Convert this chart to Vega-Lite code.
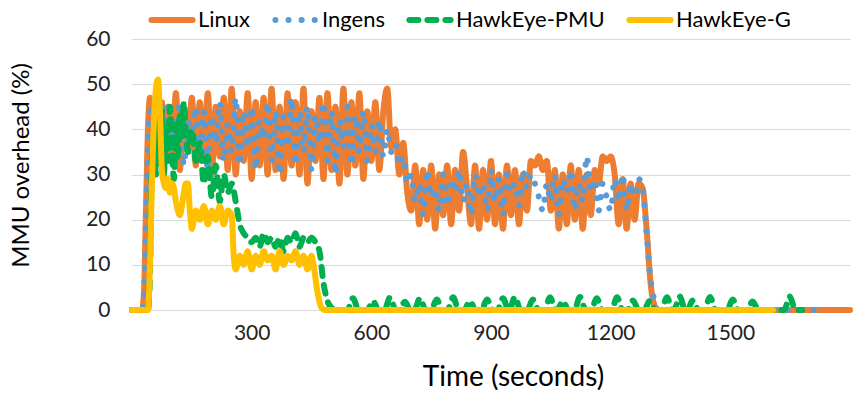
{
  "$schema": "https://vega.github.io/schema/vega-lite/v6.json",
  "width": 718,
  "height": 271,
  "autosize": {"type": "none"},
  "padding": {"left": 132, "top": 39, "right": 3, "bottom": 97},
  "background": "white",
  "config": {"font": "Lato", "view": {"stroke": null}},
  "data": {"values": [
    {"t":0,"Linux":0,"Ingens":0,"HawkEye-PMU":0,"HawkEye-G":0},
    {"t":25,"Linux":0,"Ingens":0,"HawkEye-PMU":0,"HawkEye-G":0},
    {"t":30,"Linux":4,"Ingens":3},
    {"t":35,"Linux":22,"Ingens":20},
    {"t":40,"Linux":40,"Ingens":36,"HawkEye-PMU":0,"HawkEye-G":0},
    {"t":45,"Linux":47,"Ingens":44,"HawkEye-PMU":8,"HawkEye-G":10},
    {"t":50,"Linux":40,"Ingens":41,"HawkEye-PMU":33,"HawkEye-G":28},
    {"t":55,"Linux":45,"Ingens":38,"HawkEye-PMU":38,"HawkEye-G":42},
    {"t":60,"Linux":35,"Ingens":45,"HawkEye-PMU":30,"HawkEye-G":49},
    {"t":65,"Linux":47,"Ingens":36,"HawkEye-PMU":42,"HawkEye-G":51},
    {"t":70,"Linux":33,"Ingens":44,"HawkEye-PMU":35,"HawkEye-G":44},
    {"t":75,"Linux":46,"Ingens":35,"HawkEye-PMU":44,"HawkEye-G":31},
    {"t":80,"Linux":32,"Ingens":45,"HawkEye-PMU":30,"HawkEye-G":28},
    {"t":85,"HawkEye-PMU":40,"HawkEye-G":27},
    {"t":90,"Linux":45,"Ingens":33,"HawkEye-PMU":33,"HawkEye-G":29},
    {"t":95,"HawkEye-PMU":45,"HawkEye-G":26},
    {"t":100,"Linux":34,"Ingens":43,"HawkEye-PMU":36,"HawkEye-G":28},
    {"t":105,"HawkEye-PMU":29,"HawkEye-G":27},
    {"t":110,"Linux":48,"Ingens":36,"HawkEye-PMU":41,"HawkEye-G":24},
    {"t":115,"HawkEye-PMU":34,"HawkEye-G":22},
    {"t":120,"Linux":31,"Ingens":46,"HawkEye-PMU":43,"HawkEye-G":21},
    {"t":125,"HawkEye-PMU":38,"HawkEye-G":23},
    {"t":130,"Linux":44,"Ingens":32,"HawkEye-PMU":46,"HawkEye-G":26},
    {"t":135,"HawkEye-PMU":40,"HawkEye-G":28},
    {"t":140,"Linux":35,"Ingens":42,"HawkEye-PMU":35,"HawkEye-G":28},
    {"t":145,"HawkEye-G":22},
    {"t":150,"Linux":47,"Ingens":38,"HawkEye-PMU":40,"HawkEye-G":18},
    {"t":160,"Linux":32,"Ingens":45,"HawkEye-PMU":33,"HawkEye-G":22},
    {"t":170,"Linux":46,"Ingens":34,"HawkEye-PMU":37,"HawkEye-G":20},
    {"t":180,"Linux":33,"Ingens":44,"HawkEye-PMU":28,"HawkEye-G":23},
    {"t":190,"Linux":48,"Ingens":31,"HawkEye-PMU":34,"HawkEye-G":19},
    {"t":200,"Linux":30,"Ingens":43,"HawkEye-PMU":25,"HawkEye-G":22},
    {"t":210,"Linux":45,"Ingens":37,"HawkEye-PMU":32,"HawkEye-G":20},
    {"t":220,"Linux":34,"Ingens":46,"HawkEye-PMU":24,"HawkEye-G":23},
    {"t":230,"Linux":47,"Ingens":33,"HawkEye-PMU":30,"HawkEye-G":19},
    {"t":240,"Linux":31,"Ingens":41,"HawkEye-PMU":26,"HawkEye-G":22},
    {"t":250,"Linux":49,"Ingens":35,"HawkEye-PMU":28,"HawkEye-G":21},
    {"t":255,"HawkEye-G":12},
    {"t":260,"Linux":30,"Ingens":47,"HawkEye-PMU":24,"HawkEye-G":9},
    {"t":270,"Linux":44,"Ingens":32,"HawkEye-PMU":19,"HawkEye-G":12},
    {"t":280,"Linux":33,"Ingens":44,"HawkEye-PMU":17,"HawkEye-G":10},
    {"t":290,"Linux":48,"Ingens":36,"HawkEye-PMU":16,"HawkEye-G":13},
    {"t":300,"Linux":29,"Ingens":45,"HawkEye-PMU":15,"HawkEye-G":9},
    {"t":310,"Linux":46,"Ingens":31,"HawkEye-PMU":16,"HawkEye-G":12},
    {"t":320,"Linux":32,"Ingens":42,"HawkEye-PMU":14,"HawkEye-G":10},
    {"t":330,"Linux":47,"Ingens":38,"HawkEye-PMU":17,"HawkEye-G":13},
    {"t":340,"Linux":30,"Ingens":46,"HawkEye-PMU":15,"HawkEye-G":11},
    {"t":350,"Linux":49,"Ingens":33,"HawkEye-PMU":16,"HawkEye-G":12},
    {"t":360,"Linux":31,"Ingens":44,"HawkEye-PMU":14,"HawkEye-G":9},
    {"t":370,"Linux":45,"Ingens":30,"HawkEye-PMU":16,"HawkEye-G":13},
    {"t":380,"Linux":29,"Ingens":43,"HawkEye-PMU":13,"HawkEye-G":10},
    {"t":390,"Linux":48,"Ingens":36,"HawkEye-PMU":16,"HawkEye-G":12},
    {"t":400,"Linux":32,"Ingens":47,"HawkEye-PMU":15,"HawkEye-G":11},
    {"t":410,"Linux":46,"Ingens":32,"HawkEye-PMU":17,"HawkEye-G":13},
    {"t":420,"Linux":30,"Ingens":44,"HawkEye-PMU":14,"HawkEye-G":10},
    {"t":430,"Linux":49,"Ingens":35,"HawkEye-PMU":16,"HawkEye-G":12},
    {"t":440,"Linux":28,"Ingens":45,"HawkEye-PMU":15,"HawkEye-G":9},
    {"t":450,"Linux":44,"Ingens":31,"HawkEye-PMU":16,"HawkEye-G":12},
    {"t":455,"HawkEye-G":10},
    {"t":460,"Linux":33,"Ingens":43,"HawkEye-PMU":15},
    {"t":465,"HawkEye-G":4},
    {"t":470,"Linux":47,"Ingens":37,"HawkEye-PMU":13},
    {"t":475,"HawkEye-G":0.5},
    {"t":480,"Linux":29,"Ingens":46,"HawkEye-PMU":6},
    {"t":485,"HawkEye-G":0},
    {"t":490,"Linux":48,"Ingens":33,"HawkEye-PMU":2},
    {"t":500,"Linux":31,"Ingens":44,"HawkEye-PMU":0.5},
    {"t":510,"Linux":45,"Ingens":30,"HawkEye-PMU":0},
    {"t":520,"Linux":28,"Ingens":42},
    {"t":530,"Linux":49,"Ingens":36},
    {"t":540,"Linux":30,"Ingens":45},
    {"t":550,"Linux":46,"Ingens":32},
    {"t":560,"Linux":32,"Ingens":43},
    {"t":570,"Linux":48,"Ingens":35},
    {"t":580,"Linux":29,"Ingens":44},
    {"t":590,"Linux":44,"Ingens":33},
    {"t":600,"Linux":33,"Ingens":41},
    {"t":610,"Linux":46,"Ingens":35},
    {"t":620,"Linux":31,"Ingens":42},
    {"t":630,"Linux":44,"Ingens":34},
    {"t":640,"Linux":49,"Ingens":40},
    {"t":650,"Linux":36,"Ingens":35},
    {"t":660,"Linux":40,"Ingens":37},
    {"t":670,"Linux":30,"Ingens":32},
    {"t":680,"Linux":37,"Ingens":34},
    {"t":690,"Linux":26,"Ingens":28},
    {"t":700,"Linux":22,"Ingens":30},
    {"t":710,"Linux":32,"Ingens":24},
    {"t":720,"Linux":19,"Ingens":28},
    {"t":730,"Linux":31,"Ingens":21},
    {"t":740,"Linux":20,"Ingens":31},
    {"t":750,"Linux":32,"Ingens":25},
    {"t":760,"Linux":18,"Ingens":27},
    {"t":770,"Linux":30,"Ingens":22},
    {"t":780,"Linux":21,"Ingens":30},
    {"t":790,"Linux":32,"Ingens":23},
    {"t":800,"Linux":19,"Ingens":29},
    {"t":810,"Linux":31,"Ingens":26},
    {"t":820,"Linux":22,"Ingens":31},
    {"t":830,"Linux":35,"Ingens":24},
    {"t":840,"Linux":27,"Ingens":28},
    {"t":850,"Linux":19,"Ingens":21},
    {"t":860,"Linux":32,"Ingens":30},
    {"t":870,"Linux":18,"Ingens":25},
    {"t":880,"Linux":31,"Ingens":28},
    {"t":890,"Linux":20,"Ingens":22},
    {"t":900,"Linux":33,"Ingens":31},
    {"t":910,"Linux":19,"Ingens":24},
    {"t":920,"Linux":30,"Ingens":29},
    {"t":930,"Linux":18,"Ingens":21},
    {"t":940,"Linux":32,"Ingens":30},
    {"t":950,"Linux":21,"Ingens":26},
    {"t":960,"Linux":31,"Ingens":28},
    {"t":970,"Linux":19,"Ingens":23},
    {"t":980,"Linux":30,"Ingens":31},
    {"t":990,"Linux":22,"Ingens":27},
    {"t":1000,"Linux":33,"Ingens":30},
    {"t":1010,"Linux":32,"Ingens":28},
    {"t":1020,"Linux":34,"Ingens":25},
    {"t":1030,"Linux":31,"Ingens":22},
    {"t":1040,"Linux":33,"Ingens":28},
    {"t":1050,"Linux":22,"Ingens":24},
    {"t":1060,"Linux":31,"Ingens":30},
    {"t":1070,"Linux":18,"Ingens":21},
    {"t":1080,"Linux":30,"Ingens":29},
    {"t":1090,"Linux":19,"Ingens":26},
    {"t":1100,"Linux":32,"Ingens":31},
    {"t":1110,"Linux":20,"Ingens":22},
    {"t":1120,"Linux":31,"Ingens":28},
    {"t":1130,"Linux":18,"Ingens":24},
    {"t":1140,"Linux":30,"Ingens":34},
    {"t":1150,"Linux":21,"Ingens":26},
    {"t":1160,"Linux":31,"Ingens":29},
    {"t":1170,"Linux":28,"Ingens":22},
    {"t":1180,"Linux":34,"Ingens":28},
    {"t":1190,"Linux":33,"Ingens":25},
    {"t":1200,"Linux":34,"Ingens":22},
    {"t":1210,"Linux":30,"Ingens":29},
    {"t":1220,"Linux":19,"Ingens":24},
    {"t":1230,"Linux":29,"Ingens":30},
    {"t":1240,"Linux":18,"Ingens":22},
    {"t":1250,"Linux":28,"Ingens":28},
    {"t":1260,"Linux":20,"Ingens":25},
    {"t":1270,"Linux":28,"Ingens":29},
    {"t":1280,"Linux":27,"Ingens":27},
    {"t":1290,"Linux":18,"Ingens":17},
    {"t":1300,"Linux":6,"Ingens":7},
    {"t":1310,"Linux":1,"Ingens":2},
    {"t":1320,"Linux":0,"Ingens":0},
    {"t":1740,"Ingens":0},
    {"t":1800,"Linux":0},
    {"t":1607,"HawkEye-G":0},
    {"t":540,"HawkEye-PMU":0},{"t":554,"HawkEye-PMU":2.6},{"t":568,"HawkEye-PMU":0},
    {"t":590,"HawkEye-PMU":0},{"t":604,"HawkEye-PMU":2},{"t":618,"HawkEye-PMU":0},
    {"t":633,"HawkEye-PMU":0},{"t":647,"HawkEye-PMU":2.8},{"t":661,"HawkEye-PMU":0},
    {"t":670,"HawkEye-PMU":0},{"t":684,"HawkEye-PMU":1.8},{"t":698,"HawkEye-PMU":0},
    {"t":708,"HawkEye-PMU":0},{"t":722,"HawkEye-PMU":2.6},{"t":736,"HawkEye-PMU":0},
    {"t":750,"HawkEye-PMU":0},{"t":764,"HawkEye-PMU":2.3},{"t":778,"HawkEye-PMU":0},
    {"t":791,"HawkEye-PMU":0},{"t":805,"HawkEye-PMU":2.8},{"t":819,"HawkEye-PMU":0},
    {"t":833,"HawkEye-PMU":0},{"t":847,"HawkEye-PMU":2},{"t":861,"HawkEye-PMU":0},
    {"t":876,"HawkEye-PMU":0},{"t":890,"HawkEye-PMU":2.3},{"t":904,"HawkEye-PMU":0},
    {"t":916,"HawkEye-PMU":0},{"t":930,"HawkEye-PMU":2.6},{"t":944,"HawkEye-PMU":0},
    {"t":946,"HawkEye-PMU":0},{"t":960,"HawkEye-PMU":2.9},{"t":974,"HawkEye-PMU":0},
    {"t":991,"HawkEye-PMU":0},{"t":1005,"HawkEye-PMU":2.3},{"t":1019,"HawkEye-PMU":0},
    {"t":1034,"HawkEye-PMU":0},{"t":1048,"HawkEye-PMU":2.8},{"t":1062,"HawkEye-PMU":0},
    {"t":1066,"HawkEye-PMU":0},{"t":1080,"HawkEye-PMU":2},{"t":1094,"HawkEye-PMU":0},
    {"t":1109,"HawkEye-PMU":0},{"t":1123,"HawkEye-PMU":2.9},{"t":1137,"HawkEye-PMU":0},
    {"t":1151,"HawkEye-PMU":0},{"t":1165,"HawkEye-PMU":2.6},{"t":1179,"HawkEye-PMU":0},
    {"t":1202,"HawkEye-PMU":0},{"t":1216,"HawkEye-PMU":2.8},{"t":1230,"HawkEye-PMU":0},
    {"t":1242,"HawkEye-PMU":0},{"t":1256,"HawkEye-PMU":2.1},{"t":1270,"HawkEye-PMU":0},
    {"t":1284,"HawkEye-PMU":0},{"t":1298,"HawkEye-PMU":2},{"t":1312,"HawkEye-PMU":0},
    {"t":1327,"HawkEye-PMU":0},{"t":1341,"HawkEye-PMU":2.8},{"t":1355,"HawkEye-PMU":0},
    {"t":1359,"HawkEye-PMU":0},{"t":1373,"HawkEye-PMU":3},{"t":1387,"HawkEye-PMU":0},
    {"t":1392,"HawkEye-PMU":0},{"t":1406,"HawkEye-PMU":2.1},{"t":1420,"HawkEye-PMU":0},
    {"t":1435,"HawkEye-PMU":0},{"t":1449,"HawkEye-PMU":2.9},{"t":1463,"HawkEye-PMU":0},
    {"t":1492,"HawkEye-PMU":0},{"t":1506,"HawkEye-PMU":2.3},{"t":1520,"HawkEye-PMU":0},
    {"t":1542,"HawkEye-PMU":0},{"t":1556,"HawkEye-PMU":1.9},{"t":1570,"HawkEye-PMU":0},
    {"t":1635,"HawkEye-PMU":0},{"t":1649,"HawkEye-PMU":3},{"t":1663,"HawkEye-PMU":0},
    {"t":1680,"HawkEye-PMU":0}
  ]},
  "transform": [
    {"fold": ["Linux", "Ingens", "HawkEye-PMU", "HawkEye-G"], "as": ["series", "value"]},
    {"filter": "isValid(datum.value)"}
  ],
  "encoding": {
    "x": {
      "field": "t", "type": "quantitative",
      "scale": {"domain": [0, 1800], "nice": false, "zero": false},
      "axis": {
        "values": [300, 600, 900, 1200, 1500],
        "format": "d",
        "title": "Time (seconds)",
        "grid": false, "ticks": false,
        "domainColor": "#D9D9D9", "domainWidth": 1,
        "labelFontSize": 21, "labelColor": "#222", "labelPadding": 12,
        "titleFontSize": 28, "titleFontWeight": "normal", "titleColor": "#000", "titlePadding": 20,
        "titleX": 381
      }
    },
    "y": {
      "field": "value", "type": "quantitative",
      "scale": {"domain": [0, 60], "nice": false},
      "axis": {
        "values": [0, 10, 20, 30, 40, 50, 60],
        "title": "MMU overhead (%)",
        "grid": true, "gridColor": "#D9D9D9", "gridWidth": 1.2,
        "domain": false, "ticks": false,
        "labelFontSize": 21, "labelColor": "#222", "labelPadding": 22,
        "titleFontSize": 24, "titleFontWeight": "normal", "titleColor": "#000", "titlePadding": 52,
        "titleY": 126
      }
    },
    "color": {
      "field": "series", "type": "nominal",
      "scale": {"domain": ["Linux", "Ingens", "HawkEye-PMU", "HawkEye-G"], "range": ["#ED7D31", "#5B9BD5", "#00B050", "#FFC000"]},
      "legend": {
        "orient": "none", "legendX": 16, "legendY": -43, "direction": "horizontal",
        "title": null, "labelFontSize": 22, "labelColor": "#000",
        "symbolType": "stroke", "symbolSize": 1700, "labelOffset": 2, "columnPadding": 12,
        "symbolLimit": 0,
        "encode": {"symbols": {"update": {"strokeCap": {"value": "round"}}}}
      }
    },
    "strokeDash": {
      "field": "series", "type": "nominal",
      "scale": {"domain": ["Linux", "Ingens", "HawkEye-PMU", "HawkEye-G"], "range": [[1, 0], [0.1, 13], [9, 9], [1, 0]]}
    },
    "strokeWidth": {
      "field": "series", "type": "nominal",
      "scale": {"domain": ["Linux", "Ingens", "HawkEye-PMU", "HawkEye-G"], "range": [6, 6, 5, 3]}
    }
  },
  "layer": [
    {"transform": [{"filter": {"field": "series", "equal": "Linux"}}], "mark": {"type": "line", "interpolate": "monotone", "strokeCap": "round", "strokeJoin": "round"}},
    {"transform": [{"filter": {"field": "series", "equal": "Ingens"}}], "mark": {"type": "line", "interpolate": "monotone", "strokeCap": "round", "strokeJoin": "round"}},
    {"transform": [{"filter": {"field": "series", "equal": "HawkEye-PMU"}}], "mark": {"type": "line", "interpolate": "monotone", "strokeCap": "round", "strokeJoin": "round"}},
    {"transform": [{"filter": {"field": "series", "equal": "HawkEye-G"}}], "mark": {"type": "line", "interpolate": "monotone", "strokeCap": "round", "strokeJoin": "round"}}
  ]
}
